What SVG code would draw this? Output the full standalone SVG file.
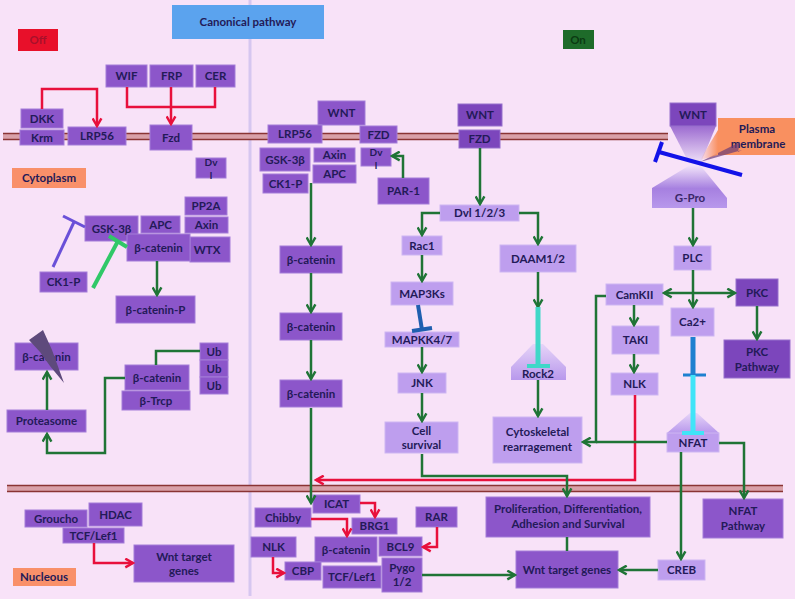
<svg xmlns="http://www.w3.org/2000/svg" width="795" height="599" viewBox="0 0 795 599">
<defs>
<style>
.n{fill:#8C56CA;stroke:#A37DD8;stroke-width:1}
.l{fill:#BE9EEE;stroke:#CDB6F2;stroke-width:1}
.d{fill:#7C46BC;stroke:#9670CC;stroke-width:1}
.t{font-family:Lato,"Liberation Sans",sans-serif;font-weight:bold;font-size:11.5px;fill:#231A58;text-anchor:middle}
.s{font-size:10px}
.g{fill:none;stroke:#1F7436;stroke-width:2.5;marker-end:url(#ga)}
.g0{fill:none;stroke:#1F7436;stroke-width:2.5}
.r{fill:none;stroke:#E8103C;stroke-width:2.5;marker-end:url(#ra)}
.r0{fill:none;stroke:#E8103C;stroke-width:2.5}
.mem{stroke:#8A3434;stroke-width:1.6}
</style>
<marker id="ga" viewBox="0 0 10 10" refX="8" refY="5" markerWidth="11" markerHeight="11" markerUnits="userSpaceOnUse" orient="auto">
<path d="M1,1 L8,5 L1,9" fill="none" stroke="#1F7436" stroke-width="2.2"/>
</marker>
<marker id="ra" viewBox="0 0 10 10" refX="8" refY="5" markerWidth="11" markerHeight="11" markerUnits="userSpaceOnUse" orient="auto">
<path d="M1,1 L8,5 L1,9" fill="none" stroke="#E8103C" stroke-width="2.2"/>
</marker>
<linearGradient id="hgTop" x1="0" y1="0" x2="0" y2="1">
<stop offset="0" stop-color="#8A52C8"/><stop offset="1" stop-color="#F4E6FA"/>
</linearGradient>
<linearGradient id="hgBot" x1="0" y1="0" x2="0" y2="1">
<stop offset="0" stop-color="#F4E6FA"/><stop offset="0.55" stop-color="#A680E0"/><stop offset="1" stop-color="#B898EC"/>
</linearGradient>
<linearGradient id="tri" x1="0" y1="0" x2="0" y2="1">
<stop offset="0" stop-color="#E6D4F8"/><stop offset="1" stop-color="#B898EC"/>
</linearGradient>
<linearGradient id="orw" x1="1" y1="0" x2="0" y2="0">
<stop offset="0" stop-color="#F99060"/><stop offset="1" stop-color="#F99060" stop-opacity="0"/>
</linearGradient>
</defs>
<rect x="0" y="0" width="795" height="599" fill="#F8E2F8"/>
<g id="background">
<line x1="250" y1="0" x2="250" y2="596" stroke="#D6C6F0" stroke-width="3"/>
<rect x="3" y="133" width="665" height="7" fill="#D9A0A8"/>
<line class="mem" x1="3" y1="133.5" x2="668" y2="133.5"/>
<line class="mem" x1="3" y1="139.5" x2="668" y2="139.5"/>
<rect x="7" y="485" width="776" height="7" fill="#D9A0A8"/>
<line class="mem" x1="7" y1="485.5" x2="783" y2="485.5"/>
<line class="mem" x1="7" y1="491.5" x2="783" y2="491.5"/>
</g>
<g id="labels">
<rect x="172" y="5" width="152" height="34" fill="#5BA3EE"/>
<text class="t" x="248" y="26" fill="#1A2A6A">Canonical pathway</text>
<rect x="18" y="29" width="40" height="22" fill="#E8102A"/>
<text class="t" x="38" y="44" style="fill:#A8102A">Off</text>
<rect x="563" y="30" width="31" height="19" fill="#1E6B2A"/>
<text class="t" x="578" y="44" style="fill:#0B3A12">On</text>
<rect x="12" y="168" width="74" height="20" fill="#F9906A"/>
<text class="t" x="49" y="182">Cytoplasm</text>
<rect x="13" y="568" width="63" height="18" fill="#F9906A"/>
<text class="t" x="44" y="581">Nucleous</text>
</g>
<g id="hourglass">
<polygon points="670,118 716,118 716,126 700,165 690,165 670,126" fill="url(#hgTop)"/>
<polygon points="690,165 700,165 727,198 727,208 652,208 652,188" fill="url(#hgBot)"/>
<text class="t" x="690" y="202" style="fill:#3A2868">G-Pro</text>
</g>
<g id="plasma-membrane">
<rect x="718" y="118" width="77" height="37" fill="#F99060"/>
<text class="t" x="757" y="133">Plasma</text>
<text class="t" x="758" y="148">membrane</text>
<polygon points="700,162 740,142 738,152 742,150" fill="#6A3A78" opacity="0.7"/>
<polygon points="700,160 718,130 718,155" fill="url(#orw)"/>
</g>
<g id="nodes-off">
<g id="n-wif"><rect class="n" x="106" y="65" width="41" height="22"/><text class="t" x="126.5" y="80">WIF</text></g>
<g id="n-frp"><rect class="n" x="150" y="65" width="43" height="22"/><text class="t" x="171.5" y="80">FRP</text></g>
<g id="n-cer"><rect class="n" x="196" y="65" width="39" height="22"/><text class="t" x="215.5" y="80">CER</text></g>
<g id="n-dkk"><rect class="n" x="21" y="109" width="42" height="19"/><text class="t" x="42" y="122.5">DKK</text></g>
<g id="n-krm"><rect class="n" x="20" y="130" width="44" height="15"/><text class="t" x="42" y="141.5">Krm</text></g>
<g id="n-lrp56a"><rect class="n" x="68" y="127" width="58" height="18"/><text class="t" x="97" y="140">LRP56</text></g>
<g id="n-fzda"><rect class="n" x="150" y="125" width="42" height="25"/><text class="t" x="171" y="142">Fzd</text></g>
<g id="n-dvla"><rect class="n" x="196" y="158" width="30" height="20"/><text class="t s" x="211" y="165.5">Dv</text><text class="t s" x="211" y="178.5">l</text></g>
<g id="n-pp2a"><rect class="n" x="185" y="197" width="42" height="18"/><text class="t" x="206" y="210">PP2A</text></g>
<g id="n-gska"><rect class="n" x="85" y="216" width="53" height="25"/><text class="t" x="111.5" y="232.5">GSK-3β</text></g>
<g id="n-apca"><rect class="n" x="141" y="216" width="39" height="17"/><text class="t" x="160.5" y="228.5">APC</text></g>
<g id="n-axina"><rect class="n" x="185" y="217" width="43" height="16"/><text class="t" x="206.5" y="229">Axin</text></g>
<g id="n-wtx"><rect class="n" x="190" y="237" width="40" height="25"/><text class="t" x="207" y="253.5">WTX</text></g>
<g id="n-bcat1"><rect class="n" x="127" y="234" width="63" height="27"/><text class="t" x="158.5" y="251.5">β-catenin</text></g>
<g id="n-ck1a"><rect class="n" x="40" y="272" width="47" height="20"/><text class="t" x="63.5" y="286">CK1-P</text></g>
<g id="n-bcatp"><rect class="n" x="116" y="296" width="79" height="27"/><text class="t" x="155.5" y="313.5">β-catenin-P</text></g>
<g id="n-bcatdeg"><rect class="n" x="15" y="343" width="63" height="27"/><text class="t" x="46.5" y="360.5">β-catenin</text>
<polygon points="29,340 43,330 52,350 64,383 50,366 40,352" fill="#5E4A7C"/></g>
<g id="n-ub1"><rect class="n" x="200" y="343" width="28" height="17"/><text class="t" x="214" y="355.5">Ub</text></g>
<g id="n-ub2"><rect class="n" x="200" y="360" width="28" height="17"/><text class="t" x="214" y="372.5">Ub</text></g>
<g id="n-ub3"><rect class="n" x="200" y="377" width="28" height="17"/><text class="t" x="214" y="389.5">Ub</text></g>
<g id="n-bcatub"><rect class="n" x="125" y="365" width="64" height="25"/><text class="t" x="157" y="381.5">β-catenin</text></g>
<g id="n-btrcp"><rect class="n" x="122" y="391" width="68" height="19"/><text class="t" x="156" y="404.5">β-Trcp</text></g>
<g id="n-prot"><rect class="n" x="7" y="410" width="79" height="22"/><text class="t" x="46.5" y="425">Proteasome</text></g>
<g id="n-groucho"><rect class="n" x="25" y="510" width="62" height="17"/><text class="t" x="56" y="522.5">Groucho</text></g>
<g id="n-hdac"><rect class="n" x="89" y="503" width="53" height="23"/><text class="t" x="115.5" y="518.5">HDAC</text></g>
<g id="n-tcfa"><rect class="n" x="63" y="528" width="61" height="15"/><text class="t" x="93.5" y="540">TCF/Lef1</text></g>
<g id="n-wnttga"><rect class="n" x="134" y="545" width="100" height="37"/><text class="t" x="184" y="561">Wnt target</text><text class="t" x="184" y="575">genes</text></g>
</g>
<g id="nodes-on">
<g id="n-wntb"><rect class="n" x="318" y="101" width="47" height="24"/><text class="t" x="341.5" y="117">WNT</text></g>
<g id="n-lrp56b"><rect class="n" x="268" y="125" width="54" height="18"/><text class="t" x="295" y="138">LRP56</text></g>
<g id="n-fzdb"><rect class="n" x="360" y="126" width="37" height="17"/><text class="t" x="378.5" y="138.5">FZD</text></g>
<g id="n-gskb"><rect class="n" x="260" y="148" width="50" height="23"/><text class="t" x="285" y="163.5">GSK-3β</text></g>
<g id="n-axinb"><rect class="n" x="314" y="148" width="41" height="14"/><text class="t" x="334.5" y="159">Axin</text></g>
<g id="n-apcb"><rect class="n" x="313" y="165" width="43" height="18"/><text class="t" x="334.5" y="178">APC</text></g>
<g id="n-dvlb"><rect class="n" x="361" y="148" width="30" height="18"/><text class="t s" x="376" y="155.5">Dv</text><text class="t s" x="376" y="168.5">l</text></g>
<g id="n-ck1b"><rect class="n" x="263" y="174" width="45" height="19"/><text class="t" x="285.5" y="187.5">CK1-P</text></g>
<g id="n-par1"><rect class="n" x="378" y="178" width="51" height="26"/><text class="t" x="403.5" y="195">PAR-1</text></g>
<g id="n-bcat2"><rect class="n" x="280" y="246" width="62" height="27"/><text class="t" x="311" y="263.5">β-catenin</text></g>
<g id="n-bcat3"><rect class="n" x="280" y="313" width="62" height="27"/><text class="t" x="311" y="330.5">β-catenin</text></g>
<g id="n-bcat4"><rect class="n" x="280" y="380" width="62" height="27"/><text class="t" x="311" y="397.5">β-catenin</text></g>
<g id="n-icat"><rect class="n" x="313" y="495" width="47" height="18"/><text class="t" x="336.5" y="508">ICAT</text></g>
<g id="n-chibby"><rect class="n" x="255" y="508" width="56" height="19"/><text class="t" x="283" y="521.5">Chibby</text></g>
<g id="n-brg1"><rect class="n" x="352" y="518" width="45" height="16"/><text class="t" x="374.5" y="530">BRG1</text></g>
<g id="n-nlkb"><rect class="n" x="251" y="537" width="45" height="20"/><text class="t" x="273.5" y="551">NLK</text></g>
<g id="n-bcat5"><rect class="n" x="315" y="537" width="62" height="25"/><text class="t" x="346" y="553.5">β-catenin</text></g>
<g id="n-bcl9"><rect class="n" x="379" y="537" width="43" height="19"/><text class="t" x="400.5" y="550.5">BCL9</text></g>
<g id="n-rar"><rect class="n" x="416" y="507" width="41" height="20"/><text class="t" x="436.5" y="521">RAR</text></g>
<g id="n-cbp"><rect class="n" x="285" y="562" width="36" height="18"/><text class="t" x="303" y="575">CBP</text></g>
<g id="n-tcfb"><rect class="n" x="323" y="566" width="58" height="22"/><text class="t" x="352" y="581">TCF/Lef1</text></g>
<g id="n-pygo"><rect class="n" x="382" y="558" width="40" height="34"/><text class="t" x="402" y="572">Pygo</text><text class="t" x="402" y="586">1/2</text></g>
<g id="n-wntc"><rect class="d" x="458" y="104" width="44" height="22"/><text class="t" x="480" y="119">WNT</text></g>
<g id="n-fzdc"><rect class="d" x="459" y="130" width="41" height="18"/><text class="t" x="479.5" y="143">FZD</text></g>
<g id="n-dvl123"><rect class="l" x="440" y="205" width="79" height="16"/><text class="t" x="479.5" y="217">Dvl 1/2/3</text></g>
<g id="n-rac1"><rect class="l" x="402" y="236" width="40" height="19"/><text class="t" x="422" y="249.5">Rac1</text></g>
<g id="n-map3k"><rect class="l" x="391" y="282" width="62" height="23"/><text class="t" x="422" y="297.5">MAP3Ks</text></g>
<g id="n-mapkk"><rect class="l" x="385" y="332" width="74" height="15"/><text class="t" x="422" y="343.5">MAPKK4/7</text></g>
<g id="n-jnk"><rect class="l" x="398" y="373" width="48" height="20"/><text class="t" x="422" y="387">JNK</text></g>
<g id="n-cellsurv"><rect class="l" x="385" y="422" width="73" height="31"/><text class="t" x="421.5" y="435">Cell</text><text class="t" x="421.5" y="449">survival</text></g>
<g id="n-daam"><rect class="l" x="500" y="245" width="76" height="27"/><text class="t" x="538" y="262.5">DAAM1/2</text></g>
<g id="n-rock2"><polygon points="511,380 511,367 533,344 543,344 566,367 566,380" fill="url(#tri)"/><text class="t" x="538" y="377.5">Rock2</text></g>
<g id="n-cyto"><rect class="l" x="493" y="417" width="89" height="46"/><text class="t" x="537.5" y="436">Cytoskeletal</text><text class="t" x="537.5" y="451">rearragement</text></g>
<g id="n-wntd"><rect class="d" x="670" y="103" width="46" height="23"/><text class="t" x="693" y="119">WNT</text></g>
<g id="n-plc"><rect class="l" x="674" y="246" width="37" height="24"/><text class="t" x="692.5" y="262">PLC</text></g>
<g id="n-camkii"><rect class="l" x="606" y="284" width="57" height="21"/><text class="t" x="634.5" y="298.5">CamKII</text></g>
<g id="n-ca2"><rect class="l" x="671" y="308" width="43" height="28"/><text class="t" x="692.5" y="326">Ca2+</text></g>
<g id="n-pkc"><rect class="d" x="736" y="279" width="42" height="27"/><text class="t" x="757" y="296.5">PKC</text></g>
<g id="n-pkcpath"><rect class="d" x="724" y="340" width="66" height="38"/><text class="t" x="757" y="356">PKC</text><text class="t" x="757" y="371">Pathway</text></g>
<g id="n-taki"><rect class="l" x="612" y="326" width="47" height="28"/><text class="t" x="635.5" y="344">TAKI</text></g>
<g id="n-nlkc"><rect class="l" x="611" y="373" width="47" height="22"/><text class="t" x="634.5" y="388">NLK</text></g>
<g id="n-nfat"><polygon points="667,433 690,413 697,413 719,433" fill="url(#tri)"/><rect class="l" x="667" y="433" width="52" height="19"/><text class="t" x="693" y="446.5">NFAT</text></g>
<g id="n-nfatpath"><rect class="n" x="703" y="499" width="80" height="39"/><text class="t" x="743" y="515">NFAT</text><text class="t" x="743" y="530">Pathway</text></g>
<g id="n-creb"><rect class="l" x="658" y="560" width="47" height="20"/><text class="t" x="681.5" y="574">CREB</text></g>
<g id="n-prolif"><rect class="n" x="486" y="497" width="164" height="40"/><text class="t" x="568" y="513">Proliferation, Differentiation,</text><text class="t" x="568" y="528">Adhesion and Survival</text></g>
<g id="n-wnttgb"><rect class="n" x="516" y="551" width="102" height="37"/><text class="t" x="567" y="573.5">Wnt target genes</text></g>
</g>
<g id="connectors">
<path class="r" d="M42,109 V89 H97 V126"/>
<path class="r0" d="M127,87 V107 H215 V87"/>
<path class="r" d="M171,87 V124"/>
<path class="r" d="M94,543 V563 H133"/>
<path class="r" d="M635,395 V480 H316"/>
<path class="r" d="M360,503 H375 V517"/>
<path class="r" d="M311,519 H347 V536"/>
<path class="r" d="M437,527 V547 H423"/>
<path class="r" d="M273,557 V573 H284"/>
<path class="g" d="M157,261 V295"/>
<path class="g0" d="M156,365 V351 H200"/>
<path class="g" d="M125,378 H105 V453 H47 V434"/>
<path class="g" d="M47,410 V372"/>
<path class="g" d="M311,183 V245"/>
<path class="g" d="M311,273 V312"/>
<path class="g" d="M311,340 V379"/>
<path class="g" d="M311,408 V503"/>
<path class="g" d="M403,178 V156 H392"/>
<path class="g" d="M480,148 V204"/>
<path class="g" d="M440,213 H422 V235"/>
<path class="g" d="M519,213 H538 V244"/>
<path class="g" d="M422,255 V281"/>
<path class="g" d="M422,347 V372"/>
<path class="g" d="M422,393 V421"/>
<path class="g" d="M538,272 V307"/>
<path class="g" d="M538,380 V416"/>
<path class="g" d="M422,454 V476 H567 V496"/>
<path class="g0" d="M567,537 V551"/>
<path class="g" d="M693,208 V245"/>
<path class="g" d="M693,270 V307"/>
<path class="g" d="M693,293 H664"/>
<path class="g" d="M693,293 H735"/>
<path class="g" d="M757,306 V339"/>
<path class="g" d="M634,305 V325"/>
<path class="g" d="M634,354 V372"/>
<path class="g" d="M606,296 H596 V442 H583"/>
<path class="g0" d="M667,442 H596"/>
<path class="g" d="M719,443 H744 V498"/>
<path class="g" d="M681,452 V559"/>
<path class="g" d="M658,570 H619"/>
<path class="g" d="M422,575 H515"/>
<line x1="53" y1="267" x2="74" y2="222" stroke="#6A50D8" stroke-width="3"/>
<line x1="63" y1="216" x2="85" y2="227" stroke="#6A50D8" stroke-width="3"/>
<line x1="93" y1="288" x2="118" y2="241" stroke="#30C868" stroke-width="4"/>
<line x1="109" y1="236" x2="127" y2="247" stroke="#30C868" stroke-width="4"/>
<line x1="418" y1="305" x2="422" y2="330" stroke="#1F5FB0" stroke-width="4"/>
<line x1="412" y1="331" x2="432" y2="328" stroke="#1F5FB0" stroke-width="4"/>
<line x1="538" y1="307" x2="538" y2="366" stroke="#40D8C8" stroke-width="5"/>
<line x1="527" y1="366" x2="550" y2="366" stroke="#40D8C8" stroke-width="4"/>
<line x1="693" y1="337" x2="693" y2="375" stroke="#1E80D0" stroke-width="5"/>
<line x1="683" y1="375" x2="706" y2="375" stroke="#1E80D0" stroke-width="3"/>
<line x1="693" y1="375" x2="693" y2="433" stroke="#40E4F8" stroke-width="5"/>
<line x1="682" y1="433" x2="704" y2="433" stroke="#40E4F8" stroke-width="4"/>
<line x1="742" y1="175" x2="659" y2="152" stroke="#1212E8" stroke-width="4"/>
<line x1="662" y1="142" x2="655" y2="162" stroke="#1212E8" stroke-width="4"/>
</g>
</svg>
